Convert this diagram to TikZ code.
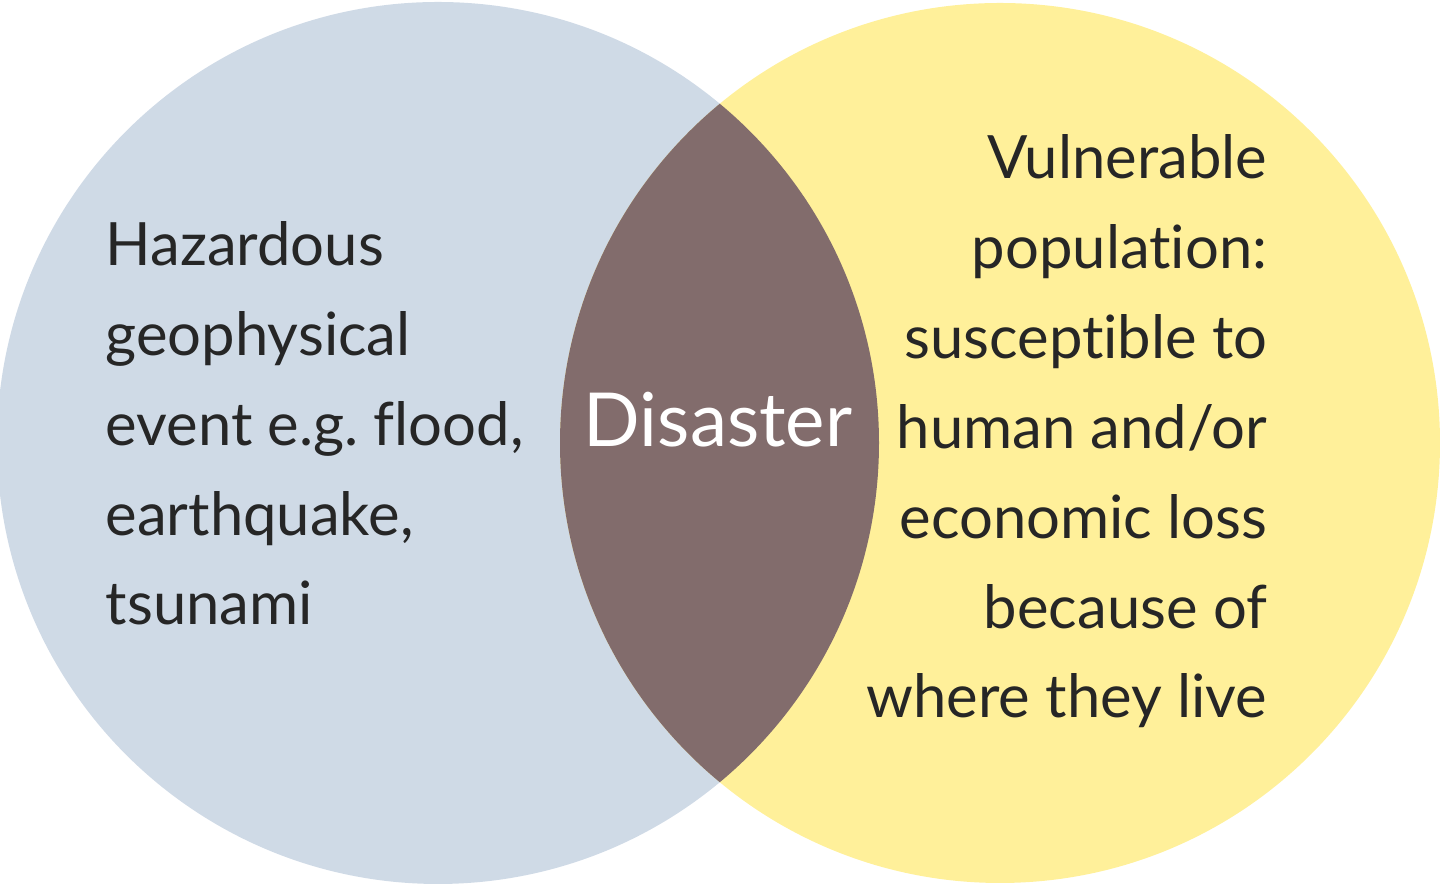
\documentclass[tikz,border=0pt]{standalone}
\usepackage{fontspec}
\setmainfont{Lato}[RawFeature={-liga}]
\begin{document}
\begin{tikzpicture}[
    hazard circle/.style={fill=hazardblue},
    people circle/.style={fill=peopleyellow},
    side text/.style={font=\fontsize{17}{25.6}\selectfont, text=black!85, inner sep=0pt},
    centre text/.style={font=\fontsize{21.2}{26}\selectfont, text=white, inner sep=0pt}
]
\definecolor{hazardblue}{HTML}{CFDAE6}
\definecolor{peopleyellow}{HTML}{FFF09A}
\definecolor{disasterbrown}{HTML}{826C6C}

\useasboundingbox (0,0) rectangle (14.4,8.87);

% Circles
\coordinate (hazard) at (4.38,4.44);
\coordinate (people) at (10.0,4.44);
\fill[hazard circle] (hazard) circle (4.41);
\fill[people circle] (people) circle (4.40);

% Overlap
\begin{scope}
    \clip (hazard) circle (4.41);
    \fill[disasterbrown] (people) circle (4.40);
\end{scope}

% Texts (base anchor sits on the last line)
\node[side text, anchor=base west, align=left] (hazardtext) at (1.05,2.62)
    {Hazardous\\geophysical\\event e.g.\ flood,\\earthquake,\\tsunami};
\node[side text, anchor=base east, align=right] (peopletext) at (12.68,1.69)
    {Vulnerable\\population:\\susceptible to\\human and/or\\economic loss\\because of\\where they live};
\node[centre text, anchor=base] (disaster) at (7.18,4.40) {Disaster};

\end{tikzpicture}
\end{document}
